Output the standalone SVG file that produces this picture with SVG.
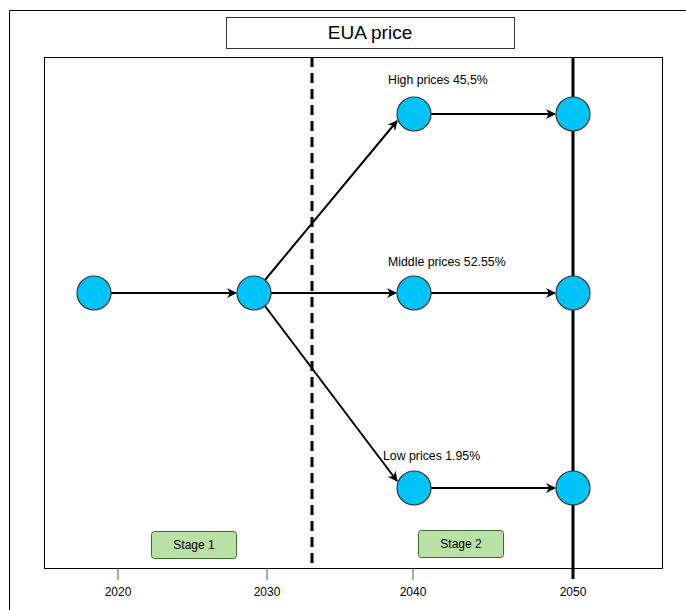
<svg xmlns="http://www.w3.org/2000/svg" width="686" height="610" viewBox="0 0 686 610">
<style>
text{font-family:"Liberation Sans",Arial,sans-serif;fill:#000}
.node{fill:#00C3F7;stroke:#333;stroke-width:1.2}
.edge{stroke:#000;stroke-width:2;fill:none}
.stage{fill:#B9E0A5;stroke:#3E6B2E;stroke-width:1}
.lbl{font-size:12.3px}
.yr{font-size:12px;text-anchor:middle}
</style>
<defs>
<marker id="arr" viewBox="0 0 10 10" refX="9" refY="5" markerWidth="11" markerHeight="10" orient="auto" markerUnits="userSpaceOnUse">
<path d="M0,0 L10,5 L0,10 L3,5 Z" fill="#000"/>
</marker>
</defs>
<rect x="0" y="0" width="686" height="610" fill="#fff"/>
<path d="M9.5,610 V10.5 H686" fill="none" stroke="#000" stroke-width="1"/>
<g id="title"><rect x="226.5" y="17.5" width="288" height="31" fill="#fff" stroke="#333"/><text x="370" y="39" font-size="19" text-anchor="middle">EUA price</text></g>
<rect x="44.5" y="57.5" width="618" height="511" fill="none" stroke="#000" stroke-width="1"/>
<g id="axis">
<line x1="118" y1="568" x2="118" y2="580" stroke="#555"/>
<line x1="267" y1="568" x2="267" y2="580" stroke="#555"/>
<line x1="413" y1="568" x2="413" y2="580" stroke="#555"/>
<text class="yr" x="118" y="596">2020</text>
<text class="yr" x="267" y="596">2030</text>
<text class="yr" x="413" y="596">2040</text>
<text class="yr" x="573" y="596">2050</text>
</g>
<line x1="312" y1="57" x2="312" y2="568" stroke="#000" stroke-width="3" stroke-dasharray="10,6"/>
<line x1="573" y1="57" x2="573" y2="579" stroke="#000" stroke-width="3"/>
<g id="connectors">
<line class="edge" x1="111" y1="293" x2="236" y2="293" marker-end="url(#arr)"/>
<line class="edge" x1="265" y1="280" x2="397" y2="121" marker-end="url(#arr)"/>
<line class="edge" x1="271" y1="293" x2="396" y2="293" marker-end="url(#arr)"/>
<line class="edge" x1="265" y1="306" x2="397" y2="481" marker-end="url(#arr)"/>
<line class="edge" x1="431" y1="114" x2="555" y2="114" marker-end="url(#arr)"/>
<line class="edge" x1="431" y1="293" x2="555" y2="293" marker-end="url(#arr)"/>
<line class="edge" x1="431" y1="488" x2="555" y2="488" marker-end="url(#arr)"/>
</g>
<g id="n1"><circle class="node" cx="94" cy="293" r="17"/></g>
<g id="n2"><circle class="node" cx="254" cy="293" r="17"/></g>
<g id="n3"><circle class="node" cx="414" cy="114" r="17"/></g>
<g id="n4"><circle class="node" cx="414" cy="293" r="17"/></g>
<g id="n5"><circle class="node" cx="414" cy="488" r="17"/></g>
<g id="n6"><circle class="node" cx="573" cy="114" r="17"/></g>
<g id="n7"><circle class="node" cx="573" cy="293" r="17"/></g>
<g id="n8"><circle class="node" cx="573" cy="488" r="17"/></g>
<text class="lbl" x="388" y="84">High prices 45,5%</text>
<text class="lbl" x="388" y="266">Middle prices 52.55%</text>
<text class="lbl" x="383" y="460">Low prices 1.95%</text>
<g id="stage1"><rect class="stage" x="151.5" y="531.5" width="85" height="27" rx="3"/><text x="194" y="549" font-size="12" text-anchor="middle">Stage 1</text></g>
<g id="stage2"><rect class="stage" x="418.5" y="530.5" width="85" height="27" rx="3"/><text x="461" y="548" font-size="12" text-anchor="middle">Stage 2</text></g>
</svg>
